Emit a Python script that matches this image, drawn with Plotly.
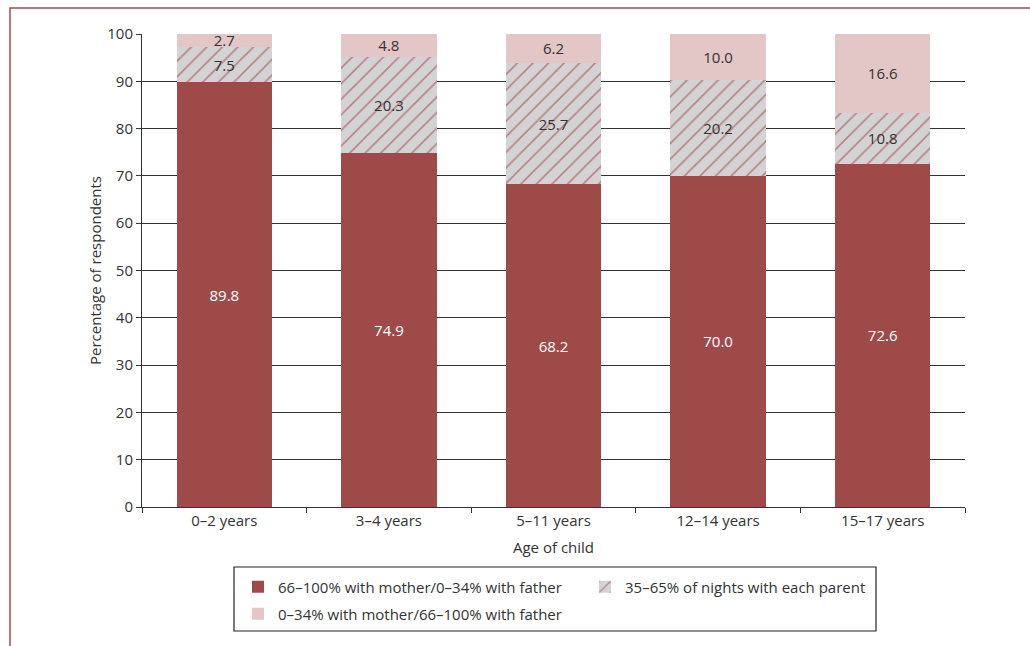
import plotly.graph_objects as go

categories = ["0–2 years", "3–4 years", "5–11 years", "12–14 years", "15–17 years"]
mother_major = [89.8, 74.9, 68.2, 70.0, 72.6]
shared = [7.5, 20.3, 25.7, 20.2, 10.8]
father_major = [2.7, 4.8, 6.2, 10.0, 16.6]

names = ["66–100% with mother/0–34% with father",
         "35–65% of nights with each parent",
         "0–34% with mother/66–100% with father"]

DARK = "#9E4A48"
HATCH = "#9C3434"
PINK = "#E3C6C6"
GREY = "#D3D3D5"
FONT = "Open Sans"
TXT = "#333333"

W, H = 1030, 646
L, R, T, B = 142, 65, 34, 139
pw = W - L - R
ph = H - T - B

def px_x(x):
    return (x - L) / pw

def px_y(y):
    return (H - B - y) / ph

fig = go.Figure()
fig.add_trace(go.Bar(x=categories, y=mother_major, name=names[0], legend="legend",
                     marker=dict(color=DARK, line=dict(width=0)),
                     text=[f"{v:.1f}" for v in mother_major], textposition="inside",
                     insidetextanchor="middle", textfont=dict(color="white", size=15, family=FONT)))
fig.add_trace(go.Bar(x=categories, y=shared, name=names[1], legend="legend2",
                     marker=dict(color=GREY, line=dict(width=0),
                                 pattern=dict(shape="/", fgcolor=HATCH, bgcolor=GREY, size=11, solidity=0.15)),
                     text=[f"{v:.1f}" for v in shared], textposition="inside",
                     insidetextanchor="middle", textfont=dict(color=TXT, size=15, family=FONT)))
fig.add_trace(go.Bar(x=categories, y=father_major, name=names[2], legend="legend3",
                     marker=dict(color=PINK, line=dict(width=0)),
                     text=[f"{v:.1f}" for v in father_major], textposition="inside",
                     insidetextanchor="middle", textfont=dict(color=TXT, size=15, family=FONT)))

leg_common = dict(bgcolor="rgba(0,0,0,0)", borderwidth=0, xanchor="left", yanchor="middle",
                  font=dict(size=15, family=FONT, color=TXT), itemsizing="constant")

fig.update_layout(
    width=W, height=H,
    margin=dict(l=L, r=R, t=T, b=B),
    barmode="stack", bargap=0.42,
    plot_bgcolor="white", paper_bgcolor="white",
    font=dict(family=FONT, size=15, color=TXT),
    uniformtext=dict(mode="show", minsize=15),
    showlegend=True,
    legend=dict(x=px_x(238), y=px_y(587), **leg_common),
    legend2=dict(x=px_x(585), y=px_y(587), **leg_common),
    legend3=dict(x=px_x(238), y=px_y(614), **leg_common),
    xaxis=dict(showline=True, linecolor=TXT, linewidth=1, ticks="outside", tickson="boundaries",
               ticklen=5, tickcolor=TXT, tickfont=dict(size=15),
               title=dict(text="Age of child", font=dict(size=15), standoff=13)),
    yaxis=dict(range=[0, 100], dtick=10, showline=True, linecolor=TXT, linewidth=1,
               ticks="outside", ticklen=5, tickcolor=TXT, tickfont=dict(size=15),
               showgrid=True, gridcolor=TXT, gridwidth=1.3, zeroline=False,
               title=dict(text="Percentage of respondents", font=dict(size=15), standoff=2)),
    shapes=[
        dict(type="rect", xref="paper", yref="paper",
             x0=px_x(10), x1=px_x(1040), y0=px_y(660), y1=px_y(8),
             line=dict(color="#A9494B", width=1.5), layer="below"),
        dict(type="rect", xref="paper", yref="paper",
             x0=px_x(234), x1=px_x(876), y0=px_y(631), y1=px_y(567),
             line=dict(color="#222222", width=1.2), fillcolor="rgba(0,0,0,0)", layer="above"),
    ],
)

fig.write_html("out.html")
